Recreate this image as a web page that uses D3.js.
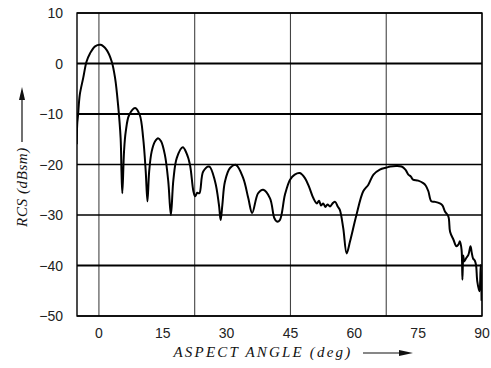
<!DOCTYPE html>
<html><head><meta charset="utf-8">
<script src="https://cdn.jsdelivr.net/npm/d3@7"></script>
<style>html,body{margin:0;padding:0;background:#fff;}svg{display:block;}</style>
</head><body>
<script>
const angles = [-5.2,-5.1,-4.9,-4.5,-3.7,-2.9,-2.1,-0.9,0.4,1.8,3.0,3.8,4.5,5.1,5.3,5.5,
 5.9,6.3,7.1,8.5,9.6,10.4,11.0,11.4,
 11.8,12.4,13.2,13.9,14.6,15.5,16.3,16.9,
 17.5,18.3,19.7,20.6,21.4,22.2,22.6,23.1,23.6,24.5,25.9,27.3,28.2,28.6,29.0,29.6,30.8,32.2,33.9,35.1,36.0,37.4,38.6,40.2,41.2,41.8,42.5,43.7,44.9,46.0,47.2,48.4,49.4,50.4,51.2,51.7,52.2,52.7,53.2,53.7,54.3,55.0,55.5,56.1,56.6,57.4,58.2,59.0,60.5,62.1,63.3,64.5,66.0,67.6,68.4,69.9,71.1,72.0,72.7,73.3,73.8,75.0,76.2,76.8,77.4,78.1,79.0,80.1,80.7,81.3,82.1,82.5,83.3,84.0,84.5,84.8,85.2,85.4,85.6,85.8,86.3,86.8,87.3,87.6,87.9,88.3,88.6,88.9,89.4,89.7,89.9];
const rcsValues = [-16,-12,-10.2,-6.2,-2.9,0.4,2.0,3.4,3.7,2.7,0.4,-2.9,-8.2,-14.8,-21.4,-25.7,
 -17.4,-13.5,-10.2,-8.8,-10.2,-14.8,-21.4,-27.3,
 -21.4,-17.4,-15.4,-14.8,-15.4,-18.1,-23.4,-30.0,
 -23,-18.7,-16.6,-17.8,-20.1,-25.3,-26.3,-25.6,-25.7,-21.4,-20.4,-23.4,-28,-31.0,-28,-23.4,-20.7,-20.1,-22.7,-26.7,-29.6,-25.7,-25.0,-26.7,-30.6,-31.3,-31.0,-26.0,-23.0,-22.0,-21.7,-22.7,-24.5,-26.7,-27.7,-27.2,-28.1,-27.7,-28.4,-27.9,-28.3,-27.6,-27.4,-28.3,-29.0,-32.6,-37.6,-35.2,-30.0,-25.3,-24.0,-22.0,-21.0,-20.6,-20.4,-20.3,-20.4,-21.0,-22.0,-22.4,-23.0,-23.2,-23.7,-24.2,-25.3,-27.3,-27.4,-27.7,-28.1,-29.3,-30.3,-33.3,-34.9,-36.2,-35.8,-35.2,-36.9,-42.8,-38,-39.2,-38.5,-37.9,-36.2,-37.5,-38.6,-39.0,-39.9,-43.2,-45.1,-39.9,-47];
const xTickValues = [0,15,30,45,60,75,90];
const xGridValues = [0,22.5,45,67.5,90];
const yTickValues = [10,0,-10,-20,-30,-40,-50];
const xTitle = "ASPECT ANGLE (deg)";
const yTitle = "RCS (dBsm)";

const W = 491, H = 368;
const pL = 77, pR = 482, pT = 13, pB = 316;
const svg = d3.select("body").append("svg").attr("width", W).attr("height", H);

const x = d3.scaleLinear().domain([-5.15, 90]).range([pL, pR]);
const y = d3.scaleLinear().domain([-50, 10]).range([pB, pT]);

// vertical grid
svg.append("g").selectAll("line").data(xGridValues).join("line")
  .attr("x1", d => x(d)).attr("x2", d => x(d)).attr("y1", pT).attr("y2", pB)
  .attr("stroke", "#444").attr("stroke-width", 1.1);

// horizontal grid
svg.append("g").selectAll("line").data(yTickValues).join("line")
  .attr("x1", pL).attr("x2", pR).attr("y1", d => y(d)).attr("y2", d => y(d))
  .attr("stroke", "#000").attr("stroke-width", d => (d === 0 || d === -10 || d === -40) ? 1.8 : 1.4);

// frame
svg.append("rect").attr("x", pL).attr("y", pT).attr("width", pR - pL).attr("height", pB - pT)
  .attr("fill", "none").attr("stroke", "#000").attr("stroke-width", 1.4);

// curve
svg.append("clipPath").attr("id", "clip").append("rect")
  .attr("x", pL).attr("y", pT).attr("width", pR - pL).attr("height", pB - pT);
const data = angles.map((a, i) => [a, rcsValues[i]]);
svg.append("path").datum(data)
  .attr("clip-path", "url(#clip)")
  .attr("d", d3.line().x(d => x(d[0])).y(d => y(d[1])).curve(d3.curveCatmullRom.alpha(0.5)))
  .attr("fill", "none").attr("stroke", "#000").attr("stroke-width", 2).attr("stroke-linejoin", "round");

// y tick labels
svg.append("g").selectAll("text").data(yTickValues).join("text")
  .attr("x", 63).attr("y", d => y(d) + 5)
  .attr("text-anchor", "end")
  .attr("font-family", "Liberation Sans, Arial, sans-serif").attr("font-size", 14).attr("fill", "#222")
  .text(d => d < 0 ? "\u2212" + Math.abs(d) : String(d));

// x tick labels
svg.append("g").selectAll("text").data(xTickValues).join("text")
  .attr("x", d => x(d)).attr("y", 338)
  .attr("text-anchor", "middle")
  .attr("font-family", "Liberation Sans, Arial, sans-serif").attr("font-size", 14).attr("fill", "#222")
  .text(d => String(d));

// x title
svg.append("text").attr("x", 263).attr("y", 357).attr("text-anchor", "middle")
  .attr("font-family", "Liberation Serif, Times New Roman, serif").attr("font-style", "italic")
  .attr("font-size", 15).attr("letter-spacing", 2.2).attr("fill", "#111").text(xTitle);
// x arrow
svg.append("line").attr("x1", 363).attr("x2", 402).attr("y1", 353).attr("y2", 353)
  .attr("stroke", "#111").attr("stroke-width", 1.2);
svg.append("path").attr("d", "M399,350 L413,353 L399,356 Z").attr("fill", "#111");

// y title
svg.append("text").attr("transform", "translate(27,187) rotate(-90)").attr("text-anchor", "middle")
  .attr("font-family", "Liberation Serif, Times New Roman, serif").attr("font-style", "italic")
  .attr("font-size", 15).attr("letter-spacing", 0.6).attr("fill", "#111").text(yTitle);
// y arrow
svg.append("line").attr("x1", 22).attr("x2", 22).attr("y1", 142).attr("y2", 98)
  .attr("stroke", "#111").attr("stroke-width", 1.2);
svg.append("path").attr("d", "M19,100 L22,87 L25,100 Z").attr("fill", "#111");
</script>
</body></html>
